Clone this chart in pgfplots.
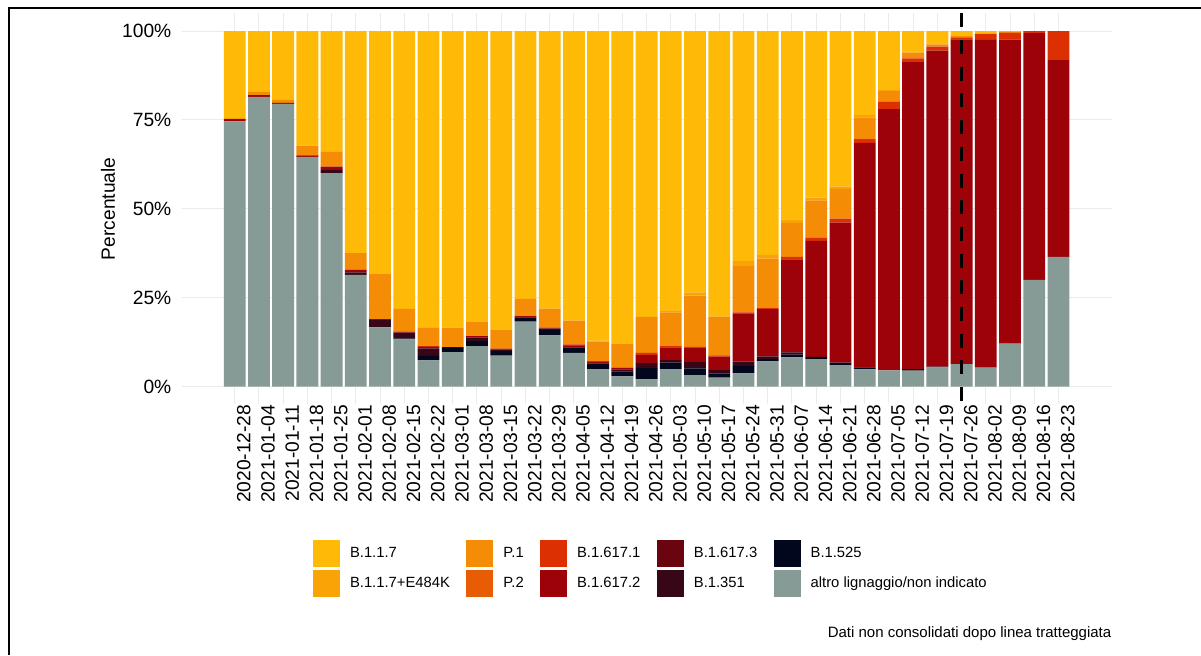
\documentclass[border=0pt]{standalone}
\usepackage{pgfplots}
\pgfplotsset{compat=1.18}
\usepackage{pgfplotstable}
\usepackage{fontspec}
\setmainfont{Liberation Sans}
\definecolor{cA}{HTML}{869B96}
\definecolor{cK}{HTML}{03071E}
\definecolor{cS}{HTML}{370617}
\definecolor{cDT}{HTML}{6A040F}
\definecolor{cDB}{HTML}{9D0208}
\definecolor{cDA}{HTML}{DC2F02}
\definecolor{cPB}{HTML}{E85D04}
\definecolor{cPA}{HTML}{F48C06}
\definecolor{cE}{HTML}{FAA307}
\definecolor{cY}{HTML}{FFBA08}
\definecolor{gridc}{HTML}{EBEBEB}
\pgfplotstableread{
x A K S DT DB DA PB PA E Y
0 74.6 0 0 0 0.7 0 0 0 0 24.7
1 81.5 0 0 0 0.5 0 0 0.9 0 17.1
2 79.5 0 0 0 0.3 0 0 0.85 0 19.35
3 64.6 0 0 0 0.45 0 0 2.7 0 32.25
4 60.05 0 0.85 0 1.0 0 0 4.1 0 34.0
5 31.4 0 0.75 0 0.65 0 0 4.7 0 62.5
6 16.65 0 2.06 0 0.28 0 0 12.6 0 68.41
7 13.27 0.28 1.6 0 0.28 0 0 6.4 0 78.17
8 7.37 1.22 2.16 0 0.4 0.35 0 5.16 0 83.34
9 9.7 1.12 0.28 0 0 0 0 5.5 0 83.4
10 11.4 1.4 1.03 0 0.37 0 0 3.94 0 81.86
11 8.67 1.3 0.47 0 0.2 0 0 5.25 0 84.11
12 18.24 1.22 0 0 0.37 0 0 4.8 0 75.37
13 14.4 1.5 0.37 0 0.2 0 0 5.44 0 78.09
14 9.5 1.5 0 0 0.45 0.4 0 6.66 0 81.49
15 4.92 1.6 0 0 0.35 0.3 0 5.44 0.3 87.09
16 2.86 1.4 0.56 0 0.47 0 0 6.66 0 88.05
17 2.0 3.2 1.4 0 2.25 0.65 0 10.1 0 80.4
18 4.92 1.78 0.75 0 3.56 0.47 0 9.4 0.3 78.82
19 3.23 1.88 1.78 0 4.1 0.2 0 14.4 0.9 73.51
20 2.5 1.2 0.94 0 3.75 0.37 0 10.9 0 80.34
21 3.7 2.06 1.22 0 13.6 0.28 0 13.0 1.4 64.74
22 7.1 0.6 0.75 0 13.3 0.3 0 13.9 1.1 62.95
23 8.2 0.8 0.6 0 26.2 0.65 0 9.56 1.0 52.99
24 7.7 0.65 0 0 32.6 0.85 0 10.6 0.75 46.85
25 6.05 0.65 0 0 39.4 1.13 0 8.35 0.65 43.77
26 4.8 0.56 0 0 63.2 1.03 0 6.1 0.65 23.66
27 4.55 0 0 0 73.5 2.05 0 3.0 0.3 16.6
28 4.45 0.45 0 0 86.4 1.03 0 1.6 0.3 5.77
29 5.4 0.2 0 0 88.9 1.1 0 0.65 0.3 3.45
30 6.3 0 0 0 91.4 0.5 0 0.35 0 1.45
31 5.3 0 0 0 92.2 1.7 0 0 0 0.8
32 12.1 0 0 0 85.5 1.9 0 0.25 0 0.25
33 30.0 0 0 0 69.4 0.6 0 0 0 0
34 36.5 0 0 0 55.3 8.2 0 0 0 0
}\data
\begin{document}
\begin{tikzpicture}
\useasboundingbox (0,0) rectangle (600.5pt,327.5pt);
\fill[white] (0,0) rectangle (600.5pt,327.5pt);
\draw[line width=1pt, black] (4.25pt,0pt) -- (4.25pt,323.25pt) -- (600.5pt,323.25pt);
\begin{axis}[
  name=ax,
  at={(90.75pt,125.35pt)}, anchor=south west,
  scale only axis, width=465.1pt, height=195.5pt,
  ybar stacked, bar width=0.9,
  xmin=-2.195, xmax=36.195, ymin=-5, ymax=105,
  axis line style={draw=none},
  major tick length=0pt,
  grid=major,
  major grid style={draw=gridc, line width=0.5pt},
  xtick={0,...,34},
  xticklabels={2020-12-28,2021-01-04,2021-01-11,2021-01-18,2021-01-25,2021-02-01,2021-02-08,2021-02-15,2021-02-22,2021-03-01,2021-03-08,2021-03-15,2021-03-22,2021-03-29,2021-04-05,2021-04-12,2021-04-19,2021-04-26,2021-05-03,2021-05-10,2021-05-17,2021-05-24,2021-05-31,2021-06-07,2021-06-14,2021-06-21,2021-06-28,2021-07-05,2021-07-12,2021-07-19,2021-07-26,2021-08-02,2021-08-09,2021-08-16,2021-08-23},
  ytick={0,25,50,75,100},
  yticklabels={0\%,25\%,50\%,75\%,100\%},
  tick label style={font=\fontsize{9.6}{11}\selectfont, text=black},
  xticklabel style={rotate=90, anchor=east, inner sep=0pt, yshift=-4.6pt},
  yticklabel style={anchor=east, inner sep=0pt, xshift=-4.9pt},
  ylabel={Percentuale},
  ylabel style={font=\fontsize{9.6}{11}\selectfont, at={(axis description cs:-0.079,0.5)}, anchor=center},
  legend columns=2, transpose legend,
  legend image code/.code={\fill[#1] (0pt,-6.75pt) rectangle (13.5pt,6.75pt);},
  legend style={draw=none, fill=none, at={(0.1414,-0.347)}, anchor=north west,
    inner sep=0pt, outer sep=0pt, font=\fontsize{7.4}{8.5}\selectfont,
    nodes={inner xsep=5pt},
    row sep=1.5pt, /tikz/every even column/.append style={column sep=3.2pt}},
  legend cell align=left,
]
\addlegendimage{fill=cY, draw=none}\addlegendentry{B.1.1.7}
\addlegendimage{fill=cE, draw=none}\addlegendentry{B.1.1.7+E484K}
\addlegendimage{fill=cPA, draw=none}\addlegendentry{P.1}
\addlegendimage{fill=cPB, draw=none}\addlegendentry{P.2}
\addlegendimage{fill=cDA, draw=none}\addlegendentry{B.1.617.1}
\addlegendimage{fill=cDB, draw=none}\addlegendentry{B.1.617.2}
\addlegendimage{fill=cDT, draw=none}\addlegendentry{B.1.617.3}
\addlegendimage{fill=cS, draw=none}\addlegendentry{B.1.351}
\addlegendimage{fill=cK, draw=none}\addlegendentry{B.1.525}
\addlegendimage{fill=cA, draw=none}\addlegendentry{altro lignaggio/non indicato}
\addplot[fill=cA, draw=none] table[x=x, y=A] {\data};
\addplot[fill=cK, draw=none] table[x=x, y=K] {\data};
\addplot[fill=cS, draw=none] table[x=x, y=S] {\data};
\addplot[fill=cDT, draw=none] table[x=x, y=DT] {\data};
\addplot[fill=cDB, draw=none] table[x=x, y=DB] {\data};
\addplot[fill=cDA, draw=none] table[x=x, y=DA] {\data};
\addplot[fill=cPB, draw=none] table[x=x, y=PB] {\data};
\addplot[fill=cPA, draw=none] table[x=x, y=PA] {\data};
\addplot[fill=cE, draw=none] table[x=x, y=E] {\data};
\addplot[fill=cY, draw=none] table[x=x, y=Y] {\data};
\end{axis}
% vertical dashed reference line at x = 30 (2021-07-26): fraction (30+2.195)/38.39 of the axis width
\path (ax.south west) -- (ax.south east) coordinate[pos=0.83863] (vb);
\path (ax.north west) -- (ax.north east) coordinate[pos=0.83863] (vt);
\draw[black, line width=1.7pt, dash pattern=on 7pt off 6.35pt] (vt) -- (vb);
\node[anchor=base east, inner sep=0pt, font=\fontsize{7.5}{9}\selectfont] at ([yshift=-116.35pt]ax.south east) {Dati non consolidati dopo linea tratteggiata};
\end{tikzpicture}
\end{document}
